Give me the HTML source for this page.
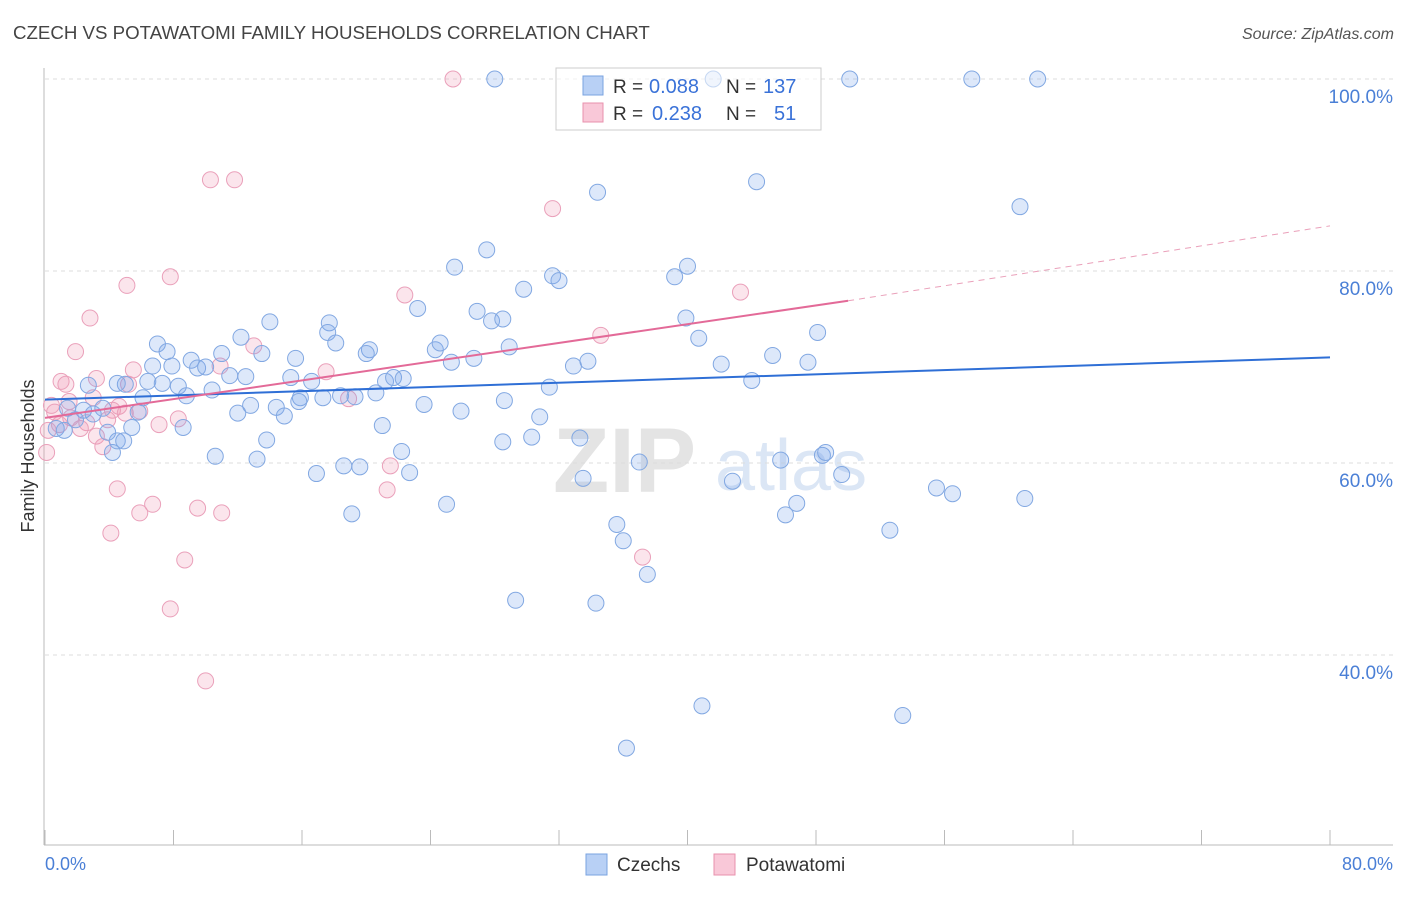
<!DOCTYPE html>
<html><head><meta charset="utf-8"><style>
body{margin:0;background:#fff;font-family:"Liberation Sans",sans-serif;}
svg text{font-family:"Liberation Sans",sans-serif;}
</style></head><body>
<svg id="chart" width="1406" height="892" xmlns="http://www.w3.org/2000/svg">
<text x="13" y="39" font-size="18.7" fill="#444">CZECH VS POTAWATOMI FAMILY HOUSEHOLDS CORRELATION CHART</text>
<text x="1394" y="39" font-size="16" fill="#555" font-style="italic" text-anchor="end">Source: ZipAtlas.com</text>
<g>
<text x="553" y="492" font-size="92" fill="#e4e4e4" font-family="Liberation Serif" font-weight="bold">ZIP</text>
<text x="715" y="490" font-size="72" fill="#dbe6f5">atlas</text>
</g>
<g id="grid"></g>
<g id="axes"></g>
<g id="marks"></g>
<text transform="translate(34,456) rotate(-90)" font-size="18" fill="#333" text-anchor="middle">Family Households</text>
<g>
<rect x="556" y="68" width="265" height="62" fill="#fff" fill-opacity="0.55" stroke="#ccc"/>
<rect x="583" y="76" width="20" height="19" fill="#b8d0f5" stroke="#7aa3e0"/>
<rect x="583" y="103" width="20" height="19" fill="#f9c8d8" stroke="#e891ad"/>
<text x="613" y="93" font-size="19" fill="#333">R =</text>
<text x="649" y="93" font-size="20" fill="#3a72d8">0.088</text>
<text x="726" y="93" font-size="19" fill="#333">N =</text>
<text x="763" y="93" font-size="20" fill="#3a72d8">137</text>
<text x="613" y="120" font-size="19" fill="#333">R =</text>
<text x="652" y="120" font-size="20" fill="#3a72d8">0.238</text>
<text x="726" y="120" font-size="19" fill="#333">N =</text>
<text x="774" y="120" font-size="20" fill="#3a72d8">51</text>
</g>
<g>
<rect x="586" y="854" width="21" height="21" fill="#b8d0f5" stroke="#7aa3e0"/>
<text x="617" y="871" font-size="19" fill="#333">Czechs</text>
<rect x="714" y="854" width="21" height="21" fill="#f9c8d8" stroke="#e891ad"/>
<text x="746" y="871" font-size="19" fill="#333">Potawatomi</text>
</g>
</svg>
<script>
const yTicks=[40,60,80,100];
const yTickLabels=["40.0%","60.0%","80.0%","100.0%"];
const xTicks=[0,8,16,24,32,40,48,56,64,72,80];
const xTickLabels=["0.0%","80.0%"];
const czechX=[28.0,41.6,50.1,57.7,61.8,34.4,44.3,60.7,27.5,25.5,31.6,32.0,29.8,39.2,40.0,23.2,26.9,27.8,28.5,39.9,48.1,40.7,14.0,17.7,17.6,18.1,12.2,7.0,7.6,11.0,9.1,13.5,6.7,7.9,9.5,10.0,15.6,20.2,20.0,24.3,24.6,25.3,26.7,28.9,33.8,32.9,42.1,45.3,47.5,6.4,7.3,8.3,5.0,2.7,4.5,10.4,8.8,11.5,12.5,15.3,16.6,21.2,21.7,22.3,31.4,44.0,20.6,18.4,19.3,17.3,15.9,15.8,6.1,3.6,1.4,2.4,3.0,5.8,12.8,14.4,12.0,14.9,23.6,25.9,28.6,30.8,0.7,1.2,1.9,3.9,5.4,8.6,21.0,4.2,4.5,4.9,13.8,22.2,28.5,30.3,33.3,13.2,10.6,22.7,18.6,19.6,16.9,37.0,45.8,48.4,48.6,49.6,42.8,33.5,35.6,36.0,25.0,46.8,46.1,19.1,55.5,56.5,61.0,52.6,37.5,29.3,34.3,40.9,53.4,36.2];
const czechY=[100,100,100,100,100,88.2,89.3,86.7,82.2,80.4,79.5,79.0,78.1,79.4,80.5,76.1,75.8,74.8,75.0,75.1,73.6,73.0,74.7,74.6,73.6,72.5,73.1,72.4,71.6,71.4,70.7,71.4,70.1,70.1,69.9,70.0,70.9,71.8,71.4,71.8,72.5,70.5,70.9,72.1,70.6,70.1,70.3,71.2,70.5,68.5,68.3,68.0,68.2,68.1,68.3,67.6,67.0,69.1,69.0,68.9,68.5,68.5,68.9,68.8,67.9,68.6,67.3,67.0,66.9,66.8,66.8,66.4,66.8,65.7,65.7,65.5,65.1,65.3,66.0,65.8,65.2,64.9,66.1,65.4,66.5,64.8,63.6,63.4,64.5,63.2,63.7,63.7,63.9,61.1,62.3,62.3,62.4,61.2,62.2,62.7,62.6,60.4,60.7,59.0,59.7,59.6,58.9,60.1,60.3,60.8,61.1,58.8,58.1,58.4,53.6,51.9,55.7,55.8,54.6,54.7,57.4,56.8,56.3,53.0,48.4,45.7,45.4,34.7,33.7,30.3];
const potX=[25.4,10.3,11.8,31.6,2.8,5.1,7.8,22.4,43.3,34.6,1.9,13.0,5.5,10.9,17.5,1.0,1.3,3.2,5.2,3.0,1.5,4.6,4.2,5.9,5.0,8.3,7.1,18.9,3.9,2.6,2.2,3.2,3.6,0.4,0.2,0.1,0.9,4.5,6.7,5.9,9.5,11.0,4.1,8.7,37.2,7.8,10.0,21.5,21.3,0.6,1.6];
const potY=[100,89.5,89.5,86.5,75.1,78.5,79.4,77.5,77.8,73.3,71.6,72.2,69.7,70.1,69.5,68.5,68.2,68.8,68.2,66.8,66.4,65.9,65.5,65.4,65.2,64.6,64.0,66.7,64.5,64.2,63.6,62.8,61.7,66.0,63.4,61.1,64.0,57.3,55.7,54.8,55.3,54.8,52.7,49.9,50.2,44.8,37.3,59.7,57.2,65.3,64.7];
const czechTrend=[[0,66.6],[80,71.0]];
const potTrendSolid=[[0,64.7],[50,76.9]];
const potTrendDash=[[50,76.9],[80,84.7]];

const NS="http://www.w3.org/2000/svg";
const X0=45,X1=1330,Y100=79,PX=9.6;
const sx=v=>X0+(X1-X0)*v/80;
const sy=v=>Y100+(100-v)*PX;
function mk(tag,attrs,parent){const e=document.createElementNS(NS,tag);for(const k in attrs)e.setAttribute(k,attrs[k]);parent.appendChild(e);return e;}
const grid=document.getElementById('grid'),axes=document.getElementById('axes'),marks=document.getElementById('marks');
yTicks.forEach((t,i)=>{
 const l=mk('line',{x1:45,x2:1393,y1:sy(t),y2:sy(t),stroke:'#ddd','stroke-dasharray':'4,4'},grid);
 
 
 const tx=mk('text',{x:1393,y:sy(t)+24,'font-size':19,fill:'#4a7fd6','text-anchor':'end'},axes);
 tx.textContent=yTickLabels[i];
 
 
});
const ya=mk('line',{x1:44,x2:44,y1:68,y2:845,stroke:'#bbb'},axes);


const xa=mk('line',{x1:44,x2:1393,y1:845,y2:845,stroke:'#bbb'},axes);


xTicks.forEach(t=>{
 const l=mk('line',{x1:sx(t),x2:sx(t),y1:830,y2:845,stroke:'#bbb'},axes);
 
 
});
const xl0=mk('text',{x:45,y:870,'font-size':18,fill:'#4a7fd6'},axes);xl0.textContent=xTickLabels[0];


const xl1=mk('text',{x:1393,y:870,'font-size':18,fill:'#4a7fd6','text-anchor':'end'},axes);xl1.textContent=xTickLabels[1];


potX.forEach((x,i)=>{
 const c=mk('circle',{cx:sx(x),cy:sy(potY[i]),r:8,fill:'rgba(240,150,180,0.25)',stroke:'#eaa0ba','stroke-width':1},marks);
 
 
});
czechX.forEach((x,i)=>{
 const c=mk('circle',{cx:sx(x),cy:sy(czechY[i]),r:8,fill:'rgba(120,165,235,0.25)',stroke:'#82a8e2','stroke-width':1},marks);
 
 
});
const t1=mk('line',{x1:sx(czechTrend[0][0]),y1:sy(czechTrend[0][1]),x2:sx(czechTrend[1][0]),y2:sy(czechTrend[1][1]),stroke:'#2f6fd6','stroke-width':2},marks);


const t2=mk('line',{x1:sx(potTrendSolid[0][0]),y1:sy(potTrendSolid[0][1]),x2:sx(potTrendSolid[1][0]),y2:sy(potTrendSolid[1][1]),stroke:'#e36a98','stroke-width':2},marks);


const t3=mk('line',{x1:sx(potTrendDash[0][0]),y1:sy(potTrendDash[0][1]),x2:sx(potTrendDash[1][0]),y2:sy(potTrendDash[1][1]),stroke:'#eaa0ba','stroke-width':1,'stroke-dasharray':'6,5'},marks);


</script>
</body></html>
